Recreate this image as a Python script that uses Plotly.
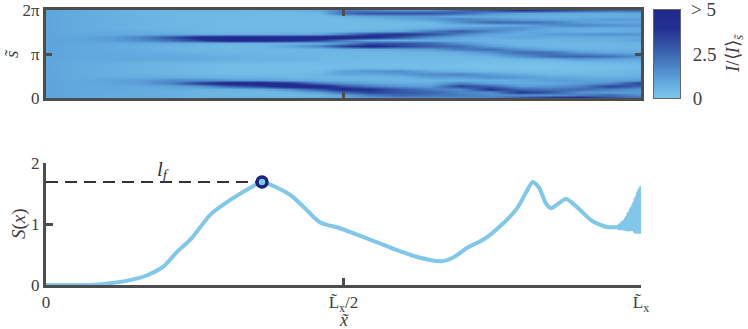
import numpy as np
import plotly.graph_objects as go

# Heatmap: x nodes (fraction of L_x) and I/<I> values, one list per x node, rows from top (2pi) to bottom (0)
heat_x = [0, .057, .108, .158, .208, .259, .309, .36, .41, .46, .5, .545, .595, .645, .696, .746, .797, .847, .897, .948, 1]
c00 = [1.0,1.0,1.0,1.0,1.0, 1.0,1.0,1.0,1.0,1.0, 1.0,1.0,1.0,1.0,1.0, 1.0,1.0,1.0,1.0,1.0, 1.0,1.0,1.0,1.0,1.0, 1.0,1.0,1.0,1.0,1.0]
c01 = [.8,.8,.8,.8,.8, .8,.8,.8,.9,1.0, 1.0,1.0,.9,.9,.9, .9,.9,.8,.8,.8, .8,.8,.8,.9,.9, .9,.9,.9,.9,.9]
c02 = [.7,.7,.7,.7,.7, .7,.7,.8,.9,1.2, 1.2,.9,.8,.8,.9, .9,.9,.8,.7,.7, .7,.7,.8,1.0,1.0, .9,.9,.8,.8,.8]
c03 = [.6,.6,.6,.6,.6, .6,.6,.7,.9,1.8, 1.6,.9,.7,.7,.8, .9,.9,.7,.6,.6, .6,.7,.8,1.2,1.2, .9,.8,.8,.8,.8]
c04 = [.5,.5,.5,.5,.5, .5,.5,.6,.9,3.0, 2.4,.9,.6,.6,.7, .9,.9,.6,.5,.5, .5,.6,.8,1.6,1.8, 1.0,.8,.7,.7,.7]
c05 = [.5,.5,.5,.5,.5, .5,.5,.5,.8,4.4, 3.6,.7,.5,.5,.6, .8,.8,.6,.4,.4, .4,.5,.7,1.6,3.6, 1.4,.7,.6,.6,.6]
c06 = [.5,.5,.5,.4,.4, .4,.4,.5,.7,5.0, 5.0,.6,.4,.5,.5, .7,.7,.5,.3,.3, .3,.4,.6,1.4,5.0, 2.6,.6,.5,.5,.6]
c07 = [.5,.4,.4,.4,.4, .4,.4,.5,.7,5.0, 5.0,.6,.5,.5,.5, .6,.6,.5,.3,.3, .3,.4,.6,1.2,5.0, 3.5,.8,.4,.5,.6]
c08 = [.6,.4,.4,.4,.4, .4,.4,.5,.8,5.0, 4.5,.6,1.0,.5,.5, .6,.6,.4,.3,.3, .3,.4,.5,.9,4.0, 5.0,1.5,.6,.4,.6]
c09 = [.9,.5,.4,.4,.4, .4,.4,.5,1.0,5.0, 3.5,.8,1.8,.5,.5, .5,.5,.4,.3,.3, .4,.5,.5,.7,2.0, 5.0,3.0,1.2,.5,.9]
c10 = [2.0,2.5,.6,.4,.4, .4,.4,.5,2.0,5.0, 2.0,1.5,3.5,.7,.5, .5,.5,.4,.3,.4, 1.1,1.0,.5,.6,1.4, 3.0,4.5,2.5,1.0,1.0]
c11 = [1.8,3.0,1.0,.5,.4, .4,.4,.7,3.5,4.5, .8,3.0,4.5,.8,.5, .5,.4,.3,.3,.5, 1.4,.9,.5,.6,1.0, 2.0,4.0,3.5,2.0,1.2]
c12 = [1.4,3.0,1.2,.8,.4, .4,.5,1.0,4.0,3.0, .7,3.0,3.5,1.0,.5, .5,.4,.3,.3,.4, 1.6,1.2,.6,.5,.8, 1.4,2.8,3.0,2.5,1.5]
c13 = [1.5,3.0,1.3,1.2,.5, .4,.7,2.0,3.2,1.6, .8,2.5,2.8,1.2,.6, .5,.4,.3,.3,.3, .9,1.6,1.1,.5,.8, 1.2,2.0,2.6,2.2,1.5]
c14 = [2.5,2.5,.9,1.8,1.5, .6,1.2,2.8,1.8,.9, .7,1.4,2.4,2.0,.8, .5,.4,.3,.2,.3, .6,1.8,1.2,.6,1.8, 3.5,1.6,1.8,2.0,1.6]
c15 = [3.0,1.5,.8,1.5,2.5, .7,1.5,1.8,1.0,.7, .6,.7,1.2,2.4,1.5, .6,.4,.3,.2,.2, .4,1.2,1.5,.7,1.0, 2.6,4.0,1.5,1.6,2.0]
c16 = [4.0,1.0,.7,1.1,2.4, 1.0,1.5,1.0,.8,1.0, .6,.5,.7,1.4,2.4, 1.5,.5,.3,.2,.2, .3,.8,1.3,.8,.8, 1.2,2.5,3.8,1.6,3.0]
c17 = [3.5,.9,.6,1.0,2.0, 1.5,.8,.8,1.2,.8, .6,.5,.5,.9,2.2, 2.4,.7,.3,.2,.2, .3,.5,.9,1.2,.9, 1.4,2.2,3.0,1.5,4.5]
c18 = [3.0,.8,.7,1.0,1.2, 1.8,.8,.7,1.3,.8, .6,.5,.5,.6,1.2, 2.6,1.2,.4,.3,.2, .3,.5,.8,1.1,1.2, 1.8,2.5,1.5,2.0,5.0]
c19 = [2.5,.8,.7,1.2,.9, 1.5,.7,.7,1.5,.8, .7,.5,.5,.6,.9, 2.2,1.0,.5,.3,.3, .4,.5,.7,1.0,1.6, 3.5,2.0,1.2,2.5,3.0]
c20 = [2.5,.9,.8,1.2,.9, 1.3,.8,.8,1.4,.9, 1.0,.6,.6,.6,.8, 1.5,.9,.6,.4,.4, .5,.6,.8,1.2,3.6, 2.5,1.4,1.2,1.5,2.5]
heat_columns = [c00,c01,c02,c03,c04,c05,c06,c07,c08,c09,c10,c11,c12,c13,c14,c15,c16,c17,c18,c19,c20]

# S(x) curve, x as fraction of L_x
curve_x = [0,.04,.074,.108,.141,.17,.197,.22,.245,.276,.309,.348,.363,.41,.435,.46,.494,.516,.551,.585,.624,.664,.686,.708,.736,.765,.792,.807,.818,.829,.84,.849,.874,.892,.918,.943,.96]
curve_s = [0,0,0,.03,.08,.16,.30,.54,.77,1.15,1.39,1.62,1.69,1.48,1.26,1.03,.93,.85,.72,.59,.46,.39,.46,.61,.75,.98,1.26,1.52,1.69,1.59,1.34,1.26,1.41,1.28,1.05,.95,.95]
tail_x = [.96,.961,.962,.963,.964,.965,.966,.967,.968,.969,.97,.971,.972,.973,.974,.975,.976,.977,.978,.979,.98,.981,.982,.983,.984,.985,.986,.987,.988,.989,.99,.991,.992,.993,.994,.995,.996,.997,.998,.999,1.0]
tail_s = [.95,.92,.98,.91,1.0,.90,1.02,.90,1.04,.90,1.05,.90,1.07,.89,1.1,.89,1.13,.88,1.18,.88,1.2,.88,1.25,.89,1.28,.90,1.32,.88,1.36,.86,1.42,.85,1.46,.84,1.52,.84,1.56,.84,1.6,.84,1.62]
peak_x = .363
peak_s = 1.69
bar_values = [0, 1, 2, 3, 4, 5]

DARK = "#4d4d4d"
TXT = "#404040"
FONT = "Liberation Serif, Times New Roman, serif"
SCALE = [[0, "#7cc8ec"], [.2, "#5ea5dc"], [.5, "#3c68b2"], [.8, "#232f92"], [1, "#1f2a8c"]]

heat_z = np.array(heat_columns).T[::-1]
heat_y = np.linspace(0, 2*np.pi, heat_z.shape[0])

fig = go.Figure()
fig.add_trace(go.Heatmap(x=heat_x, y=heat_y, z=heat_z, zmin=0, zmax=5, zsmooth="best", xaxis="x", yaxis="y",
                         colorscale=SCALE, showscale=False))
fig.add_trace(go.Heatmap(x=[0, 1], y=bar_values, z=[[v, v] for v in bar_values], zmin=0, zmax=5, zsmooth="best",
                         xaxis="x3", yaxis="y3", colorscale=SCALE, showscale=False))
fig.add_trace(go.Scatter(x=[0, peak_x], y=[peak_s, peak_s], mode="lines", xaxis="x2", yaxis="y2",
                         line=dict(color="#333333", width=2, dash="12px,7px"), showlegend=False))
fig.add_trace(go.Scatter(x=curve_x, y=curve_s, mode="lines", xaxis="x2", yaxis="y2", cliponaxis=False,
                         line=dict(color="#80c8ea", width=4, shape="spline", smoothing=0.7), showlegend=False))
fig.add_trace(go.Scatter(x=tail_x, y=tail_s, mode="lines", xaxis="x2", yaxis="y2", cliponaxis=False,
                         line=dict(color="#80c8ea", width=3), showlegend=False))
fig.add_trace(go.Scatter(x=[peak_x], y=[peak_s], mode="markers", xaxis="x2", yaxis="y2", cliponaxis=False,
                         marker=dict(size=10, color="#80c8ea", line=dict(color="#1a237e", width=3.5)), showlegend=False))

axis_common = dict(showgrid=False, zeroline=False, showline=True, linecolor=DARK, ticks="inside", automargin=False,
                   tickcolor=DARK, tickfont=dict(family=FONT, size=17, color=TXT))
fig.update_layout(
    width=748, height=329, autosize=False, margin=dict(l=0, r=0, t=0, b=0, pad=0, autoexpand=False),
    paper_bgcolor="white", plot_bgcolor="white", showlegend=False,
    xaxis=dict(domain=[46/748, 641/748], range=[0, 1], anchor="y", linewidth=3, mirror="ticks", tickwidth=3, ticklen=6,
               tickvals=[.5], ticktext=[""], **axis_common),
    yaxis=dict(domain=[1-98/329, 1-10/329], range=[0, 2*np.pi], anchor="x", linewidth=3, mirror="ticks", tickwidth=3, ticklen=6,
               tickvals=[0, np.pi, 2*np.pi], ticktext=["0", "π", "2π"], **axis_common),
    xaxis2=dict(domain=[46/748, 641/748], range=[0, 1], anchor="y2", linewidth=3, tickwidth=3, ticklen=7,
                tickvals=[0, .5, 1], ticktext=["0", "L̃<sub>x</sub>/2", "L̃<sub>x</sub>"], **axis_common),
    yaxis2=dict(domain=[1-285/329, 1-163/329], range=[0, 2], anchor="x2", linewidth=3, tickwidth=3, ticklen=7,
                tickvals=[0, 1, 2], ticktext=["0", "1", "2"], **axis_common),
    xaxis3=dict(domain=[654/748, 680/748], range=[0, 1], anchor="y3", showticklabels=False, ticks="", showgrid=False,
                zeroline=False, showline=True, linecolor="#666666", linewidth=1, mirror=True),
    yaxis3=dict(domain=[1-98/329, 1-10/329], range=[0, 5], anchor="x3", side="right", ticks="", showgrid=False,
                zeroline=False, showline=True, linecolor="#666666", linewidth=1, mirror=True, ticklabelstandoff=8,
                tickvals=[0, 2.5], ticktext=["0", "2.5"], tickfont=dict(family=FONT, size=19, color=TXT)),
    annotations=[
        dict(text="> 5", x=689/748, y=1-10/329, xref="paper", yref="paper", showarrow=False,
             xanchor="left", yanchor="middle", font=dict(family=FONT, size=19, color=TXT)),
        dict(text="<i>l<sub>f</sub></i>", x=163/748, y=1-170/329, xref="paper", yref="paper", showarrow=False,
             xanchor="center", yanchor="middle", font=dict(family=FONT, size=21, color="#333333")),
        dict(text="<i>S</i>(<i>x</i>)", x=19/748, y=1-224/329, xref="paper", yref="paper", showarrow=False, textangle=-90,
             xanchor="center", yanchor="middle", font=dict(family=FONT, size=19, color=TXT)),
        dict(text="<i>s̃</i>", x=12/748, y=1-54/329, xref="paper", yref="paper", showarrow=False, textangle=-90,
             xanchor="center", yanchor="middle", font=dict(family=FONT, size=19, color=TXT)),
        dict(text="<i>x̃</i>", x=344/748, y=1-320/329, xref="paper", yref="paper", showarrow=False,
             xanchor="center", yanchor="middle", font=dict(family=FONT, size=18, color=TXT)),
        dict(text="<i>I</i>/⟨<i>I</i>⟩<sub><i>s̃</i></sub>", x=734/748, y=1-54/329, xref="paper", yref="paper", showarrow=False, textangle=-90,
             xanchor="center", yanchor="middle", font=dict(family=FONT, size=19, color=TXT)),
    ],
)
fig.write_html("out.html", config={"displayModeBar": False}, post_script="document.body.style.margin='0';")
